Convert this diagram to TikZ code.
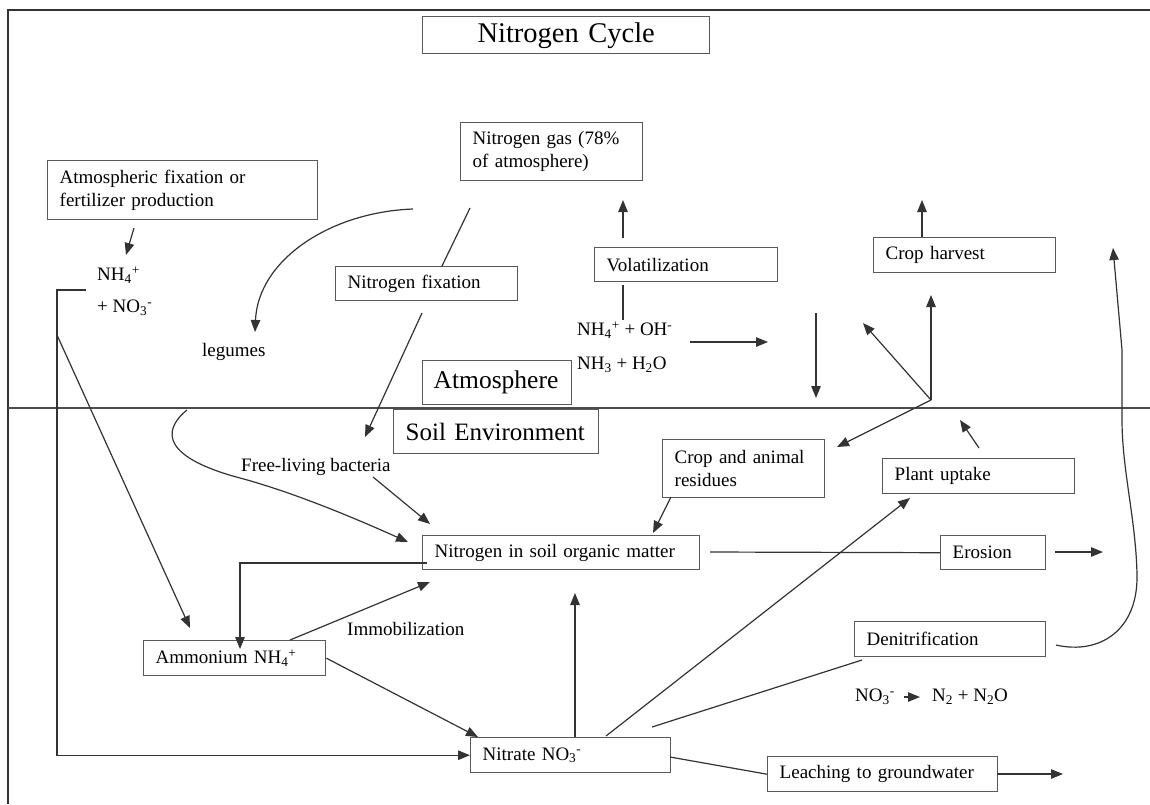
\documentclass[tikz,border=0pt]{standalone}
\usepackage{fontspec}
\setmainfont{Liberation Serif}
\usetikzlibrary{arrows.meta}
\begin{document}
\begin{tikzpicture}[x=1pt, y=-1pt,
  box/.style={draw=black!65, line width=1.4pt, anchor=north west, inner xsep=12pt, inner ysep=2pt, align=left, font=\fontsize{19}{23}\selectfont},
  lbl/.style={anchor=west, inner sep=0pt, font=\fontsize{19}{23}\selectfont},
  arr/.style={draw=black!80, line width=1.2pt, -{Triangle[length=12pt, width=9.5pt]}},
  ln/.style={draw=black!80, line width=1.2pt}]
\useasboundingbox (0,0) rectangle (1150,804);
% frame and ground line
\draw[black!80, line width=1.5pt] (1150,10) -- (8,10) -- (8,804);
\draw[black!70, line width=1.3pt] (8,408) -- (1150,408);
% boxes
\node[box, align=center, text width=263pt, minimum height=37pt, font=\fontsize{28.5}{30}\selectfont] (title) at (422,16) {Nitrogen Cycle};
\node[box, text width=158pt, minimum height=58pt] (gas) at (460,122) {Nitrogen gas (78\%\\of atmosphere)};
\node[box, text width=246pt, minimum height=59pt] (atmfix) at (47,160) {Atmospheric fixation or\\fertilizer production};
\node[box, text width=159pt, minimum height=34pt] (volat) at (594,247) {Volatilization};
\node[box, text width=158pt, minimum height=34pt] (fix) at (335,266) {Nitrogen fixation};
\node[box, inner xsep=11pt, text width=127pt, minimum height=44pt, font=\fontsize{25.5}{27}\selectfont] (atmo) at (422,360) {Atmosphere};
\node[box, text width=181pt, minimum height=44pt, font=\fontsize{25}{27}\selectfont] (soil) at (393,409) {\mbox{Soil Environment}};
\node[box, text width=158pt, minimum height=35pt] (harvest) at (873,237) {Crop harvest};
\node[box, text width=138pt, minimum height=58pt] (resid) at (662,439) {Crop and animal\\residues};
\node[box, text width=168pt, minimum height=35pt] (uptake) at (882,458) {Plant uptake};
\node[box, text width=253pt, minimum height=34pt] (som) at (422,535) {Nitrogen in soil organic matter};
\node[box, text width=81pt, minimum height=34pt] (erosion) at (940,535) {Erosion};
\node[box, text width=167pt, minimum height=35pt] (denit) at (854,621) {Denitrification};
\node[box, text width=158pt, minimum height=35pt] (ammon) at (143,640) {Ammonium NH\textsubscript{4}\textsuperscript{+}};
\node[box, text width=176pt, minimum height=35pt] (nitrate) at (470,737) {Nitrate NO\textsubscript{3}\textsuperscript{-}};
\node[box, text width=206pt, minimum height=35pt] (leach) at (767,756) {Leaching to groundwater};
% free labels
\node[lbl] (nhfour) at (97,275) {NH\textsubscript{4}\textsuperscript{+}};
\node[lbl] (nothree) at (97,308) {+ NO\textsubscript{3}\textsuperscript{-}};
\node[lbl] (legumes) at (202,352) {legumes};
\node[lbl] (nhoh) at (577,330) {NH\textsubscript{4}\textsuperscript{+} + OH\textsuperscript{-}};
\node[lbl] (nhwater) at (577,365) {NH\textsubscript{3} + H\textsubscript{2}O};
\node[lbl] (bact) at (241,467) {Free-living bacteria};
\node[lbl] (immob) at (347,629) {Immobilization};
\node[lbl] (denno) at (855,697) {NO\textsubscript{3}\textsuperscript{-}};
\node[lbl] (dengas) at (932,697) {N\textsubscript{2} + N\textsubscript{2}O};
% connector ends
\coordinate (fixout) at (134,228);
\coordinate (nhin) at (126,255);
\coordinate (brk) at (86,290);
\coordinate (brkcorner) at (57,290);
\coordinate (brkmid) at (57,335);
\coordinate (ammonin) at (190,628);
\coordinate (gasleft) at (413,209);
\coordinate (legumein) at (255,332);
\coordinate (gasout) at (470,208);
\coordinate (fixtop) at (442,266);
\coordinate (fixdown) at (422,313);
\coordinate (bactin) at (365,437);
\coordinate (legumeout) at (187,410);
\coordinate (somin) at (408,542);
\coordinate (bactout) at (373,477);
\coordinate (bactsom) at (430,524);
\coordinate (residout) at (671,497);
\coordinate (residsom) at (653,533);
\coordinate (somright) at (710,552);
\coordinate (erosionright) at (1055,552);
\coordinate (erosionout) at (1103,552);
\coordinate (immobout) at (290,640);
\coordinate (immobin) at (430,582);
\coordinate (somleft) at (427,563);
\coordinate (ammontop) at (240,649);
\coordinate (nitratein) at (478,737);
\coordinate (nitrateup) at (575,737);
\coordinate (somlow) at (575,593);
\coordinate (nitratene) at (606,736);
\coordinate (uptakein) at (910,498);
\coordinate (nitrateden) at (652,727);
\coordinate (denin) at (862,660);
\coordinate (denout) at (1056,645);
\coordinate (denup) at (1113,248);
\coordinate (nitrateout) at (670,757);
\coordinate (leachright) at (997,774);
\coordinate (leachout) at (1063,774);
\coordinate (volattop) at (623,238);
\coordinate (volatup) at (623,200);
\coordinate (volatlow) at (623,285);
\coordinate (nhohtop) at (623,320);
\coordinate (nhright) at (690,342);
\coordinate (nhrighttip) at (768,342);
\coordinate (downtop) at (816,313);
\coordinate (downtip) at (816,398);
\coordinate (harvesttop) at (922,237);
\coordinate (harvestup) at (922,200);
\coordinate (branch) at (931,400);
\coordinate (branchup) at (931,295);
\coordinate (branchleft) at (863,323);
\coordinate (branchdown) at (837,447);
\coordinate (uptakeout) at (979,448);
\coordinate (uptaketip) at (960,420);
% atmosphere side
\draw[arr] (fixout) -- (nhin);
\draw[arr] (brk) -- (brkcorner) |- (nitrate.west);
\draw[arr] (brkmid) -- (ammonin);
\draw[arr] (gasleft) .. controls (330,212) and (258,260) .. (legumein);
\draw[ln] (gasout) -- (fixtop);
\draw[arr] (fixdown) -- (bactin);
\draw[arr] (volattop) -- (volatup);
\draw[ln] (volatlow) -- (nhohtop);
\draw[arr] (nhright) -- (nhrighttip);
\draw[arr] (downtop) -- (downtip);
\draw[arr] (harvesttop) -- (harvestup);
\draw[arr] (branch) -- (branchup);
\draw[arr] (branch) -- (branchleft);
\draw[arr] (branch) -- (branchdown);
\draw[arr] (uptakeout) -- (uptaketip);
% soil side
\draw[arr] (legumeout) .. controls (160,432) and (165,458) .. (240,478) .. controls (300,494) and (370,525) .. (somin);
\draw[arr] (bactout) -- (bactsom);
\draw[arr] (residout) -- (residsom);
\draw[ln] (somright) -- (erosion.west);
\draw[arr] (erosionright) -- (erosionout);
\draw[arr] (immobout) -- (immobin);
\draw[arr] (somleft) -| (ammontop);
\draw[arr] (ammon.east) -- (nitratein);
\draw[arr] (nitrateup) -- (somlow);
\draw[arr] (nitratene) -- (uptakein);
\draw[ln] (nitrateden) -- (denin);
\draw[arr] (denout) .. controls (1100,655) and (1138,630) .. (1137,575) .. controls (1136,520) and (1122,470) .. (1122,420) -- (1122,350) -- (denup);
\draw[ln] (nitrateout) -- (leach.west);
\draw[arr] (leachright) -- (leachout);
\draw[arr, shorten <=9pt, shorten >=12pt] (denno) -- (dengas);
\end{tikzpicture}
\end{document}
